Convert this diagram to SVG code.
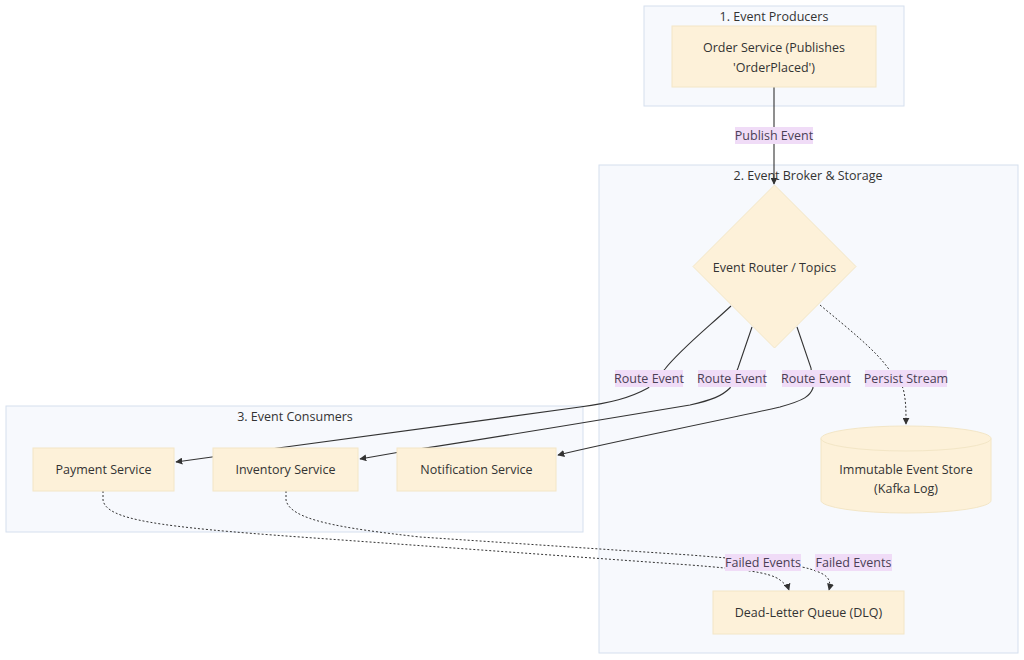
<svg xmlns="http://www.w3.org/2000/svg" width="1024" height="660" viewBox="0 0 1024 660">
<style>
text{font-family:"Open Sans","Liberation Sans",sans-serif;font-size:12.5px;fill:#333;text-anchor:middle;dominant-baseline:central}
.cluster{fill:#f7f9fd;stroke:#d5dfee;stroke-width:1}
.node{fill:#fdf1d9;stroke:#f3e6c6;stroke-width:1}
.edge{fill:none;stroke:#333;stroke-width:1.1}
.dot{stroke-dasharray:2 2;stroke-width:1}
.lbg{fill:#f0dcf7}
.lt{fill:#4a3f55}
</style>
<defs>
<marker id="ah" viewBox="0 0 10 10" refX="9" refY="5" markerWidth="7" markerHeight="7" orient="auto" markerUnits="userSpaceOnUse">
<path d="M0,0 L10,5 L0,10 z" fill="#333"/>
</marker>
</defs>
<g id="cluster-producers"><rect class="cluster" x="644" y="6" width="260" height="100"/><text x="774" y="16">1. Event Producers</text></g>
<g id="cluster-broker"><rect class="cluster" x="599" y="165" width="419" height="488"/><text x="808" y="175">2. Event Broker &amp; Storage</text></g>
<g id="cluster-consumers"><rect class="cluster" x="6" y="406" width="577" height="126"/><text x="295" y="416">3. Event Consumers</text></g>

<g id="connectors">
<path class="edge" d="M774,87 L774,184" marker-end="url(#ah)"/>
<path class="edge" d="M731,306 C705,330 680,350 665,369 L648,388 C630,398 610,403 580,407 C450,425 300,445 212,457 L176,462" marker-end="url(#ah)"/>
<path class="edge" d="M752,327 L738,368 L730,388 C722,396 712,400 690,405 C600,420 480,440 400,452 L360,459" marker-end="url(#ah)"/>
<path class="edge" d="M797,327 L811,368 L813,388 C810,396 805,400 780,407 C700,425 620,440 558,455" marker-end="url(#ah)"/>
<path class="edge dot" d="M820,305 C850,330 875,350 888,368 L903,388 C906,400 906,410 906,424" marker-end="url(#ah)"/>
<path class="edge dot" d="M103,491 L103,500 C106,520 160,527 300,537 L690,565 C740,569 770,572 780,580 C785,584 788,587 789,590" marker-end="url(#ah)"/>
<path class="edge dot" d="M286,491 L286,500 C290,520 340,528 420,537 L690,555 C740,559 790,563 810,569 C826,574 832,578 829,590" marker-end="url(#ah)"/>
</g>

<g id="edge-labels">
<g id="lbl-publish"><rect class="lbg" x="735" y="127" width="78" height="17"/><text class="lt" x="774" y="135.5">Publish Event</text></g>
<g id="lbl-route1"><rect class="lbg" x="615" y="370" width="68" height="17"/><text class="lt" x="649" y="378.5">Route Event</text></g>
<g id="lbl-route2"><rect class="lbg" x="698" y="370" width="68" height="17"/><text class="lt" x="732" y="378.5">Route Event</text></g>
<g id="lbl-route3"><rect class="lbg" x="782" y="370" width="68" height="17"/><text class="lt" x="816" y="378.5">Route Event</text></g>
<g id="lbl-persist"><rect class="lbg" x="865" y="370" width="82" height="17"/><text class="lt" x="906" y="378.5">Persist Stream</text></g>
<g id="lbl-failed1"><rect class="lbg" x="725" y="554" width="76" height="17"/><text class="lt" x="763" y="562.5">Failed Events</text></g>
<g id="lbl-failed2"><rect class="lbg" x="815" y="554" width="77" height="17"/><text class="lt" x="853.5" y="562.5">Failed Events</text></g>
</g>

<g id="node-order"><rect class="node" x="672" y="26" width="204" height="61"/><text x="774" y="47">Order Service (Publishes</text><text x="774" y="67">'OrderPlaced')</text></g>
<g id="node-router"><polygon class="node" points="774.5,185 856,266.5 774.5,348 693,266.5"/><text x="774.5" y="267">Event Router / Topics</text></g>
<g id="node-store"><path class="node" d="M821,438.5 a85,12.5 0 0 0 170,0 a85,12.5 0 0 0 -170,0 l0,62 a85,12.5 0 0 0 170,0 l0,-62"/><text x="906" y="469">Immutable Event Store</text><text x="906" y="488">(Kafka Log)</text></g>
<g id="node-payment"><rect class="node" x="33" y="448" width="141" height="43"/><text x="103.5" y="469.5">Payment Service</text></g>
<g id="node-inventory"><rect class="node" x="213" y="448" width="145" height="43"/><text x="285.5" y="469.5">Inventory Service</text></g>
<g id="node-notification"><rect class="node" x="397" y="448" width="159" height="43"/><text x="476.5" y="469.5">Notification Service</text></g>
<g id="node-dlq"><rect class="node" x="713" y="591" width="191" height="43"/><text x="808.5" y="612.5">Dead-Letter Queue (DLQ)</text></g>
</svg>
